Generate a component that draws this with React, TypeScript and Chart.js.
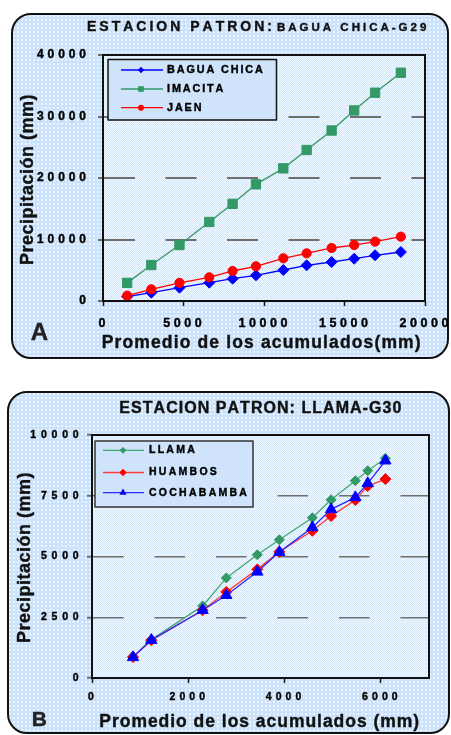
import React, { useEffect, useRef } from 'react';
import { Chart, registerables } from 'chart.js';

Chart.register(...registerables);

const FONT = '"Liberation Sans", Arial, Helvetica, sans-serif';

// ---- Estación patrón Bagua Chica (G29) ----
const aPromedio = [1500, 3000, 4750, 6600, 8050, 9500, 11200, 12650, 14200, 15600, 16900, 18500];
const aBaguaChica = [700, 1350, 2170, 2980, 3630, 4170, 5040, 5800, 6340, 6880, 7430, 7970];
const aImacita = [2950, 5850, 9100, 12850, 15800, 18970, 21570, 24550, 27720, 30980, 33870, 37120];
const aJaen = [865, 1900, 2950, 3850, 4880, 5640, 6940, 7750, 8620, 9100, 9650, 10460];
const aXTicks = [0, 5000, 10000, 15000, 20000];
const aYTicks = [0, 10000, 20000, 30000, 40000];

// ---- Estación patrón Llama (G30) ----
const bPromedio = [852, 1232, 2298, 2790, 3434, 3892, 4577, 4966, 5470, 5727, 6094];
const bLlama = [880, 1580, 2967, 4120, 5070, 5686, 6593, 7334, 8117, 8530, 9040];
const bHuambos = [860, 1553, 2790, 3543, 4470, 5193, 6058, 6663, 7322, 7899, 8187];
const bCochabamba = [850, 1560, 2790, 3407, 4368, 5180, 6197, 6939, 7433, 8010, 8941];
const bXTicks = [0, 2000, 4000, 6000];
const bYTicks = [0, 2500, 5000, 7500, 10000];

type SeriesSpec = {
  label: string;
  xs: number[];
  ys: number[];
  color: string;
  lineColor: string;
  style: string;
  radius: number;
  legendRadius: number;
  order: number;
};

type TextSpec = {
  text: string;
  x: number;
  y: number;
  size: number;
  spacing: number;
  rotate?: boolean;
  color?: string;
};

type PanelSpec = {
  top: number;
  height: number;
  padding: { left: number; right: number; top: number; bottom: number };
  xMax: number;
  yMax: number;
  xTicks: number[];
  yTicks: number[];
  gridWidth: number;
  gridDash: number[];
  series: SeriesSpec[];
  yLabel: { size: number; spacing: number; right: number };
  xLabel: { size: number; spacing: number; y: number; dx: number };
  legend: {
    x: number; y: number; w: number; h: number; border: string;
    rows: number[]; lineX: [number, number]; markerX: number; textX: number;
    size: number; spacing: number;
  };
  texts: TextSpec[];
};

const panelA: PanelSpec = {
  top: 0,
  height: 375,
  padding: { left: 43, right: 26, top: 55, bottom: 44 },
  xMax: 20000,
  yMax: 40000,
  xTicks: aXTicks,
  yTicks: aYTicks,
  gridWidth: 2,
  gridDash: [31, 30.5],
  series: [
    { label: 'BAGUA CHICA', xs: aPromedio, ys: aBaguaChica, color: '#0000ff', lineColor: '#0000ff', style: 'rectRot', radius: 5.5, legendRadius: 3.2, order: 2 },
    { label: 'IMACITA', xs: aPromedio, ys: aImacita, color: '#339966', lineColor: '#339966', style: 'rect', radius: 6.6, legendRadius: 4, order: 3 },
    { label: 'JAEN', xs: aPromedio, ys: aJaen, color: '#ff0000', lineColor: '#ff0000', style: 'circle', radius: 4.6, legendRadius: 3, order: 1 },
  ],
  yLabel: { size: 12, spacing: 3.9, right: 86 },
  xLabel: { size: 12.5, spacing: 3.5, y: 324, dx: -1 },
  legend: {
    x: 108, y: 59.5, w: 168.5, h: 60.5, border: '#111',
    rows: [70, 89, 107.7], lineX: [121, 163], markerX: 141, textX: 167,
    size: 10.8, spacing: 1.9,
  },
  texts: [
    { text: 'ESTACION PATRON:', x: 87, y: 30.7, size: 14, spacing: 3 },
    { text: 'BAGUA CHICA-G29', x: 277, y: 30.7, size: 11.5, spacing: 3 },
    { text: 'Precipitación (mm)', x: 33, y: 265, size: 18, spacing: 0.5, rotate: true },
    { text: 'Promedio de los acumulados(mm)', x: 101.7, y: 347.7, size: 17.5, spacing: 1.14 },
    { text: 'A', x: 30.7, y: 340, size: 24, spacing: 0, color: '#222' },
  ],
};

const panelB: PanelSpec = {
  top: 375,
  height: 360,
  padding: { left: 32, right: 22, top: 60, bottom: 27 },
  xMax: 7000,
  yMax: 10000,
  xTicks: bXTicks,
  yTicks: bYTicks,
  gridWidth: 1.5,
  gridDash: [30.5, 31],
  series: [
    { label: 'LLAMA', xs: bPromedio, ys: bLlama, color: '#339966', lineColor: '#45a874', style: 'rectRot', radius: 5, legendRadius: 3.4, order: 3 },
    { label: 'HUAMBOS', xs: bPromedio, ys: bHuambos, color: '#ff0000', lineColor: '#ff3b3b', style: 'rectRot', radius: 5.5, legendRadius: 3.7, order: 2 },
    { label: 'COCHABAMBA', xs: bPromedio, ys: bCochabamba, color: '#0000ff', lineColor: '#2a2aff', style: 'triangle', radius: 6.5, legendRadius: 4.2, order: 1 },
  ],
  yLabel: { size: 10.5, spacing: 4.8, right: 78.7 },
  xLabel: { size: 10.5, spacing: 4.1, y: 321.7, dx: -1 },
  legend: {
    x: 95, y: 66, w: 158, h: 66, border: '#333',
    rows: [75.3, 97.5, 117.7], lineX: [103, 144], markerX: 123, textX: 149,
    size: 10.5, spacing: 2.26,
  },
  texts: [
    { text: 'ESTACION PATRON: LLAMA-G30', x: 119.3, y: 38.3, size: 16, spacing: 1.04 },
    { text: 'Precipitación (mm)', x: 29.5, y: 268, size: 18, spacing: 0.5, rotate: true },
    { text: 'Promedio de los acumulados (mm)', x: 99.3, y: 351.7, size: 17.5, spacing: 0.97 },
    { text: 'B', x: 31.7, y: 350.7, size: 21, spacing: 0, color: '#222' },
  ],
};

function spacedWidth(ctx: CanvasRenderingContext2D, text: string, spacing: number) {
  let w = 0;
  for (const ch of text) w += ctx.measureText(ch).width + spacing;
  return w - spacing;
}

// Bold text with a hairline stroke for a heavier weight, laid out glyph by glyph.
function drawSpaced(
  ctx: CanvasRenderingContext2D,
  text: string,
  x: number,
  y: number,
  spacing: number,
  align: 'left' | 'center' | 'right',
) {
  const w = spacedWidth(ctx, text, spacing);
  let cx = align === 'center' ? x - w / 2 : align === 'right' ? x - w : x;
  ctx.textAlign = 'left';
  ctx.strokeStyle = ctx.fillStyle as string;
  ctx.lineWidth = 0.4;
  ctx.lineJoin = 'round';
  for (const ch of text) {
    ctx.fillText(ch, cx, y);
    ctx.strokeText(ch, cx, y);
    cx += ctx.measureText(ch).width + spacing;
  }
}

function drawMarker(ctx: CanvasRenderingContext2D, style: string, x: number, y: number, r: number, color: string) {
  ctx.beginPath();
  if (style === 'rectRot') {
    ctx.moveTo(x - r, y);
    ctx.lineTo(x, y - r);
    ctx.lineTo(x + r, y);
    ctx.lineTo(x, y + r);
    ctx.closePath();
  } else if (style === 'rect') {
    const s = r * Math.SQRT1_2;
    ctx.rect(x - s, y - s, 2 * s, 2 * s);
  } else if (style === 'triangle') {
    ctx.moveTo(x, y - r);
    ctx.lineTo(x + r * 0.866, y + r / 2);
    ctx.lineTo(x - r * 0.866, y + r / 2);
    ctx.closePath();
  } else {
    ctx.arc(x, y, r, 0, Math.PI * 2);
  }
  ctx.fillStyle = color;
  ctx.fill();
}

function plotPattern(ctx: CanvasRenderingContext2D) {
  const c = document.createElement('canvas');
  c.width = 2;
  c.height = 2;
  const g = c.getContext('2d')!;
  g.fillStyle = '#d3e7fb';
  g.fillRect(0, 0, 2, 2);
  g.fillStyle = '#f1f8ff';
  g.fillRect(0, 0, 1, 1);
  g.fillRect(1, 1, 1, 1);
  return ctx.createPattern(c, 'repeat');
}

function buildConfig(spec: PanelSpec): any {
  const decor = {
    id: 'panelDecor',
    beforeDraw(chart: any) {
      const { ctx, chartArea: a } = chart;
      ctx.save();
      ctx.fillStyle = plotPattern(ctx) || '#e2effc';
      ctx.fillRect(a.left, a.top, a.right - a.left, a.bottom - a.top);
      ctx.restore();
    },
    afterDatasetsDraw(chart: any) {
      const { ctx, chartArea: a, scales } = chart;
      ctx.save();
      // plot frame
      ctx.strokeStyle = '#111';
      ctx.lineWidth = 2;
      ctx.strokeRect(a.left, a.top, a.right - a.left, a.bottom - a.top);

      // tick labels
      ctx.fillStyle = '#000';
      ctx.textBaseline = 'middle';
      ctx.font = `bold ${spec.yLabel.size}px ${FONT}`;
      for (const v of spec.yTicks) {
        drawSpaced(ctx, String(v), spec.yLabel.right, scales.y.getPixelForValue(v), spec.yLabel.spacing, 'right');
      }
      ctx.font = `bold ${spec.xLabel.size}px ${FONT}`;
      for (const v of spec.xTicks) {
        drawSpaced(ctx, String(v), scales.x.getPixelForValue(v) + spec.xLabel.dx, spec.xLabel.y, spec.xLabel.spacing, 'center');
      }

      // legend
      const L = spec.legend;
      ctx.fillStyle = '#cfe4fb';
      ctx.fillRect(L.x, L.y, L.w, L.h);
      ctx.strokeStyle = L.border;
      ctx.lineWidth = 1.5;
      ctx.strokeRect(L.x, L.y, L.w, L.h);
      ctx.font = `bold ${L.size}px ${FONT}`;
      spec.series.forEach((s, i) => {
        const y = L.rows[i];
        ctx.strokeStyle = s.lineColor;
        ctx.lineWidth = 1.3;
        ctx.beginPath();
        ctx.moveTo(L.lineX[0], y);
        ctx.lineTo(L.lineX[1], y);
        ctx.stroke();
        drawMarker(ctx, s.style, L.markerX, y, s.legendRadius, s.color);
        ctx.fillStyle = '#000';
        ctx.textBaseline = 'middle';
        drawSpaced(ctx, s.label, L.textX, y, L.spacing, 'left');
      });

      // titles and axis captions
      ctx.textBaseline = 'alphabetic';
      for (const t of spec.texts) {
        ctx.font = `bold ${t.size}px ${FONT}`;
        ctx.fillStyle = t.color || '#111';
        if (t.rotate) {
          ctx.save();
          ctx.translate(t.x, t.y);
          ctx.rotate(-Math.PI / 2);
          drawSpaced(ctx, t.text, 0, 0, t.spacing, 'left');
          ctx.restore();
        } else {
          drawSpaced(ctx, t.text, t.x, t.y, t.spacing, 'left');
        }
      }
      ctx.restore();
    },
  };

  return {
    type: 'line',
    data: {
      datasets: spec.series.map((s) => ({
        label: s.label,
        data: s.xs.map((x, i) => ({ x, y: s.ys[i] })),
        borderColor: s.lineColor,
        backgroundColor: s.color,
        borderWidth: 1.3,
        pointStyle: s.style,
        pointRadius: s.radius,
        pointBackgroundColor: s.color,
        pointBorderColor: s.color,
        pointBorderWidth: 1,
        tension: 0,
        fill: false,
        order: s.order,
      })),
    },
    options: {
      responsive: false,
      animation: false,
      events: [],
      layout: { padding: spec.padding },
      plugins: {
        legend: { display: false },
        title: { display: false },
        tooltip: { enabled: false },
      },
      scales: {
        x: {
          type: 'linear',
          min: 0,
          max: spec.xMax,
          afterBuildTicks: (s: any) => {
            s.ticks = spec.xTicks.map((value) => ({ value }));
          },
          afterFit: (s: any) => {
            s.height = 30;
          },
          ticks: { display: false },
          grid: {
            drawOnChartArea: false,
            drawTicks: true,
            tickLength: 5,
            tickColor: '#111',
            tickWidth: 1.5,
          },
          border: { color: '#111', width: 2 },
        },
        y: {
          type: 'linear',
          min: 0,
          max: spec.yMax,
          afterBuildTicks: (s: any) => {
            s.ticks = spec.yTicks.map((value) => ({ value }));
          },
          afterFit: (s: any) => {
            s.width = 60;
          },
          ticks: { display: false },
          grid: {
            color: '#6e6e6e',
            lineWidth: spec.gridWidth,
            drawTicks: true,
            tickLength: 5,
            tickColor: '#6e6e6e',
            tickWidth: 2,
          },
          border: { color: '#111', width: 2, dash: spec.gridDash },
        },
      },
    },
    plugins: [decor],
  };
}

function ChartCanvas({ spec }: { spec: PanelSpec }) {
  const ref = useRef<HTMLCanvasElement | null>(null);
  useEffect(() => {
    if (!ref.current) return;
    const chart = new Chart(ref.current, buildConfig(spec));
    return () => chart.destroy();
  }, [spec]);
  return (
    <canvas
      ref={ref}
      width={451}
      height={spec.height}
      style={{ position: 'absolute', left: 0, top: spec.top, width: 451, height: spec.height }}
    />
  );
}

const panelStyle: React.CSSProperties = {
  position: 'absolute',
  boxSizing: 'border-box',
  border: '2px solid #111',
  borderRadius: 20,
  backgroundColor: '#cbe2fa',
  backgroundImage: 'radial-gradient(circle at 1px 1px, #e9f4ff 0.9px, transparent 1.2px)',
  backgroundSize: '4px 4px',
};

export default function App() {
  return (
    <div style={{ position: 'absolute', left: 0, top: 0, width: 451, height: 735, background: '#fff', overflow: 'hidden' }}>
      <div style={{ ...panelStyle, left: 11, top: 13, width: 438, height: 346 }} />
      <div style={{ ...panelStyle, left: 7, top: 391, width: 443, height: 343 }} />
      <ChartCanvas spec={panelA} />
      <ChartCanvas spec={panelB} />
    </div>
  );
}
